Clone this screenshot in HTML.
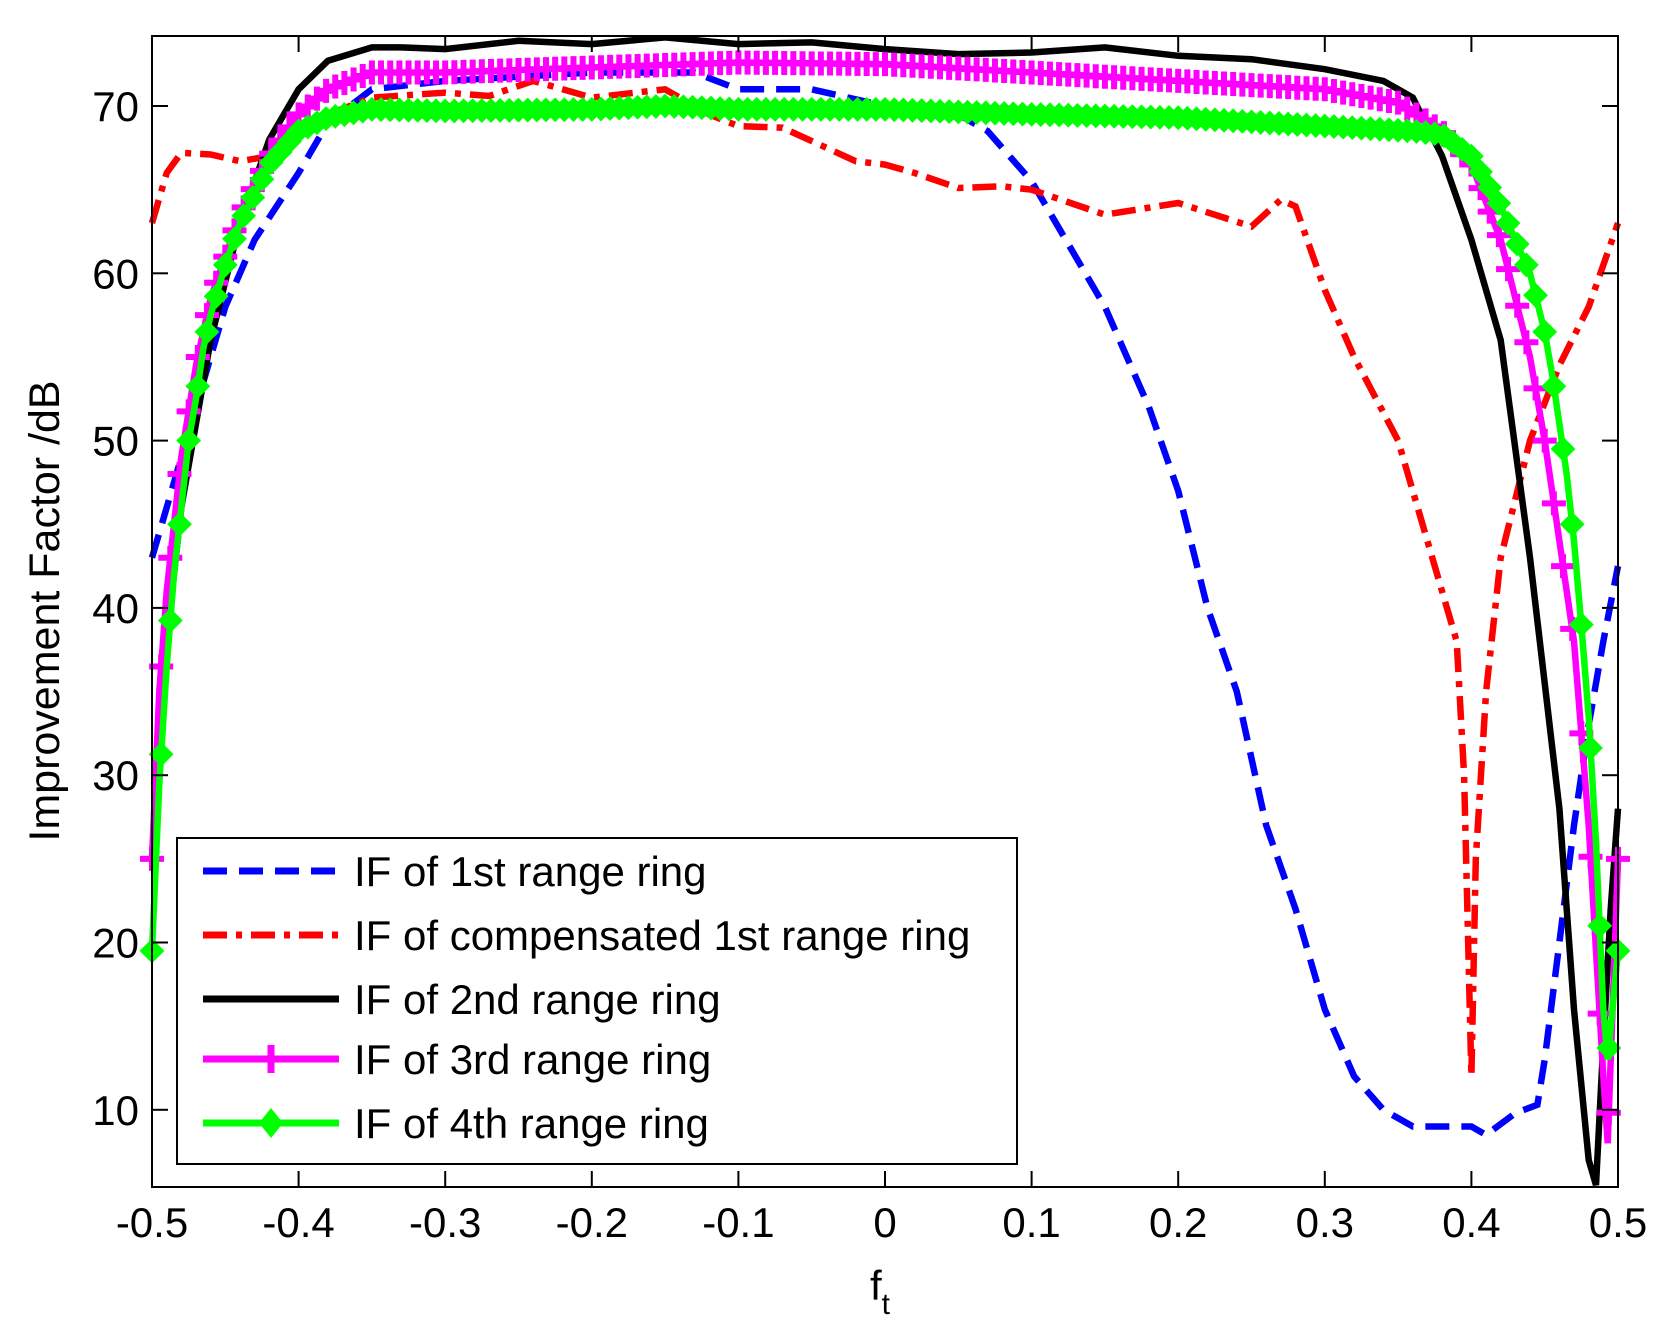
<!DOCTYPE html>
<html><head><meta charset="utf-8"><style>
html,body{margin:0;padding:0;background:#fff;}
svg{display:block;font-family:"Liberation Sans",Arial,sans-serif;}
</style></head><body>
<svg id="s" width="1665" height="1341" xmlns="http://www.w3.org/2000/svg">
<rect width="1665" height="1341" fill="#fff"/>
<g id="plot"></g>
<g id="ax"></g>
<g id="leg"></g>
<text x="45" y="611" font-size="43" text-anchor="middle" dominant-baseline="central" transform="rotate(-90 45 611)">Improvement Factor /dB</text>
<text x="880" y="1300" font-size="42" text-anchor="middle">f<tspan font-size="30" dy="14">t</tspan></text>
</svg>
<script>
const L=152,R=1618,T=36,B=1187;
const X=f=>L+(f+0.5)*(R-L);
const Y=v=>106+(70-v)*16.73;
const NS="http://www.w3.org/2000/svg";
function el(p,n,a,txt){const e=document.createElementNS(NS,n);for(const k in a)e.setAttribute(k,a[k]);if(txt!=null)e.textContent=txt;p.appendChild(e);return e;}
const plot=document.getElementById('plot'),ax=document.getElementById('ax'),leg=document.getElementById('leg');
function parse(s){return s.trim().split(/\s+/).map(p=>p.split(':').map(Number));}
const blue=parse("-0.5:43 -0.49:46 -0.47:52 -0.45:58 -0.43:62 -0.4:66 -0.38:69 -0.35:71 -0.3:71.5 -0.2:72 -0.13:72 -0.1:71 -0.05:71 0:70 0.05:69.5 0.07:68.5 0.1:65.5 0.13:61 0.15:58 0.18:52 0.2:47 0.22:40 0.24:35 0.26:27 0.28:22 0.3:16 0.32:12 0.34:10 0.36:9 0.4:9 0.41:8.5 0.43:9.8 0.445:10.3 0.45:13 0.46:20 0.47:27 0.48:33 0.49:38 0.5:42.5");
const red=parse("-0.5:63 -0.49:66 -0.48:67.2 -0.46:67.1 -0.44:66.7 -0.42:67 -0.4:68.5 -0.38:69.5 -0.35:70.5 -0.3:70.8 -0.27:70.6 -0.24:71.5 -0.2:70.5 -0.15:71 -0.12:69.5 -0.1:68.8 -0.07:68.7 -0.04:67.5 -0.02:66.7 0:66.5 0.02:66 0.05:65.1 0.08:65.2 0.1:65 0.15:63.5 0.2:64.2 0.25:62.8 0.27:64.4 0.28:64 0.3:59 0.32:55 0.35:50 0.37:44 0.39:38 0.395:30 0.4:12 0.403:25 0.41:35 0.42:43 0.44:50 0.46:54.5 0.48:58 0.5:63");
const black=parse("-0.5:25 -0.49:38 -0.48:46 -0.46:56 -0.44:63 -0.42:68 -0.4:71 -0.38:72.7 -0.35:73.5 -0.33:73.5 -0.3:73.4 -0.25:73.9 -0.2:73.7 -0.15:74.1 -0.1:73.7 -0.05:73.8 0:73.4 0.05:73.1 0.1:73.2 0.15:73.5 0.2:73 0.25:72.8 0.3:72.2 0.34:71.5 0.36:70.5 0.38:67 0.4:62 0.42:56 0.44:43 0.46:28 0.47:16 0.48:7 0.485:5.5 0.49:14 0.495:22 0.5:28");
const mag=parse("-0.5:25 -0.495:35 -0.49:41 -0.48:49 -0.47:54.5 -0.46:58.5 -0.44:63.5 -0.42:67 -0.4:69.5 -0.38:71 -0.35:72 -0.3:72 -0.2:72.3 -0.1:72.6 0:72.5 0.1:72 0.2:71.5 0.3:71 0.35:70.2 0.38:68.5 0.4:66.5 0.42:62 0.44:55 0.45:50 0.46:44 0.47:38 0.48:27 0.49:12 0.493:8 0.5:25");
const grn=parse("-0.5:19.5 -0.495:29.5 -0.49:36.5 -0.485:42 -0.48:46 -0.475:50 -0.47:52.5 -0.465:55.5 -0.46:57.5 -0.45:60.5 -0.44:63 -0.42:66.5 -0.4:68.5 -0.38:69.3 -0.35:69.8 -0.3:69.7 -0.2:69.8 -0.15:70 -0.1:69.8 0:69.8 0.1:69.5 0.2:69.3 0.3:68.8 0.36:68.5 0.38:68.3 0.4:67 0.42:64 0.44:60 0.45:56.5 0.455:54 0.46:51 0.465:48 0.47:44 0.475:39 0.48:33.5 0.485:26 0.49:16 0.493:13 0.5:19.5");
function interp(d,f){for(let i=1;i<d.length;i++){if(f<=d[i][0]){const a=d[i-1],b=d[i];const t=(f-a[0])/(b[0]-a[0]);return a[1]+t*(b[1]-a[1]);}}return d[d.length-1][1];}
function path(d){return d.map((p,i)=>(i?'L':'M')+X(p[0]).toFixed(1)+' '+Y(p[1]).toFixed(1)).join(' ');}
const cp=el(document.getElementById('s'),'clipPath',{id:'c'});el(cp,'rect',{x:L-20,y:T,width:R-L+40,height:B-T});
plot.setAttribute('clip-path','url(#c)');
const W=6.5;
el(plot,'path',{d:path(blue),fill:'none',stroke:'#0000ff','stroke-width':W,'stroke-dasharray':'24 12'});
el(plot,'path',{d:path(red),fill:'none',stroke:'#ff0000','stroke-width':W,'stroke-dasharray':'24 9 6 9'});
el(plot,'path',{d:path(black),fill:'none',stroke:'#000','stroke-width':W});
el(plot,'path',{d:path(mag),fill:'none',stroke:'#ff00ff','stroke-width':W});
let ms='';
for(let f=-0.5;f<=0.5001;f+=1/160){const x=X(f),y=Y(interp(mag,f));ms+=`M${x-12} ${y}h24M${x} ${y-12}v24`;}
el(plot,'path',{d:ms,fill:'none',stroke:'#ff00ff','stroke-width':6});
el(plot,'path',{d:path(grn),fill:'none',stroke:'#00ff00','stroke-width':W});
let gs='';
for(let f=-0.5;f<=0.5001;f+=1/160){const x=X(f),y=Y(interp(grn,f));gs+=`M${x-11} ${y}L${x} ${y-11}L${x+11} ${y}L${x} ${y+11}Z`;}
el(plot,'path',{d:gs,fill:'#00ff00',stroke:'#00ff00','stroke-width':2});
el(ax,'rect',{x:L,y:T,width:R-L,height:B-T,fill:'none',stroke:'#000','stroke-width':2});
for(let i=0;i<=10;i++){const f=-0.5+i/10,x=X(f);
 el(ax,'line',{x1:x,y1:B,x2:x,y2:B-16,stroke:'#000','stroke-width':2});
 el(ax,'line',{x1:x,y1:T,x2:x,y2:T+16,stroke:'#000','stroke-width':2});
 let s=(Math.round(f*10)/10).toString();
 el(ax,'text',{x:x,y:1237,'font-size':42,'text-anchor':'middle'},s);}
for(let v=10;v<=70;v+=10){const y=Y(v);
 el(ax,'line',{x1:L,y1:y,x2:L+16,y2:y,stroke:'#000','stroke-width':2});
 el(ax,'line',{x1:R,y1:y,x2:R-16,y2:y,stroke:'#000','stroke-width':2});
 el(ax,'text',{x:139,y:y+15,'font-size':42,'text-anchor':'end'},v);}
el(leg,'rect',{x:177,y:838,width:840,height:326,fill:'#fff',stroke:'#000','stroke-width':2});
const rows=[["IF of 1st range ring",'#0000ff','24 12'],["IF of compensated 1st range ring",'#ff0000','24 9 6 9'],["IF of 2nd range ring",'#000',''],["IF of 3rd range ring",'#ff00ff',''],["IF of 4th range ring",'#00ff00','']];
const ry=[871,935,999,1059,1123];
rows.forEach((r,i)=>{const y=ry[i];
 const a={x1:203,y1:y,x2:339,y2:y,stroke:r[1],'stroke-width':7};if(r[2])a['stroke-dasharray']=r[2];el(leg,'line',a);
 if(i==3)el(leg,'path',{d:`M271 ${y-14}v28`,stroke:r[1],'stroke-width':7});
 if(i==4)el(leg,'path',{d:`M271 ${y-15}L283 ${y}L271 ${y+15}L259 ${y}Z`,fill:r[1]});
 el(leg,'text',{x:354,y:y+15,'font-size':42},r[0]);});
</script>
</body></html>
